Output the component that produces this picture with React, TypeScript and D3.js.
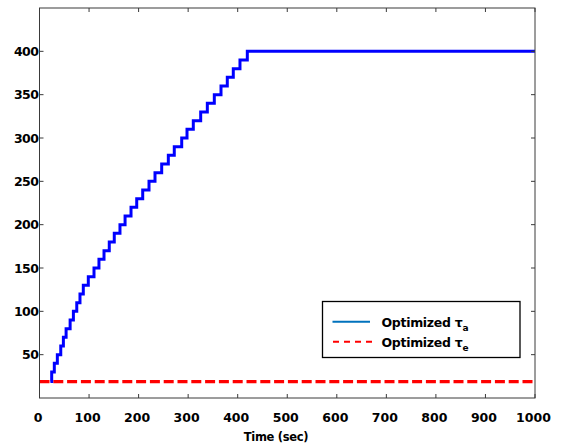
import React from "react";
import * as d3 from "d3";

// Optimized tau_a: step-change times (sec) and the value reached at each step
const stepTimes = [22, 24.6, 29.9, 36, 42.9, 48.2, 53.7, 61.8, 68.4, 75.2, 81.7, 88.4, 98.5, 110, 120, 130.2, 140.8, 150.9, 162.4, 172.7, 184.7, 196.2, 208.3, 221, 233.1, 246.6, 260, 272, 287, 297.7, 310.4, 325.3, 338.7, 352.8, 366.3, 379, 391.1, 404.6, 419.4, 1000];
const stepValues = [19, 30, 40, 50, 60, 70, 80, 90, 100, 110, 120, 130, 140, 150, 160, 170, 180, 190, 200, 210, 220, 230, 240, 250, 260, 270, 280, 290, 300, 310, 320, 330, 340, 350, 360, 370, 380, 390, 400, 400];

// Optimized tau_e: constant
const tauETimes = [0, 1000];
const tauEValues = [19, 19];

const xTicks = [0, 100, 200, 300, 400, 500, 600, 700, 800, 900, 1000];
const yTicks = [50, 100, 150, 200, 250, 300, 350, 400];

const W = 569;
const H = 444;
const L = 39.5;
const R = 535;
const T = 8;
const B = 398;

export default function App() {
  const x = d3.scaleLinear().domain([0, 1000]).range([L, R]);
  const y = d3.scaleLinear().domain([0, 450]).range([B, T]);

  const stepData = stepTimes.map((t, i) => [t, stepValues[i]] as [number, number]);
  const eData = tauETimes.map((t, i) => [t, tauEValues[i]] as [number, number]);

  const stepLine = d3
    .line<[number, number]>()
    .x((d) => x(d[0]))
    .y((d) => y(d[1]))
    .curve(d3.curveStepAfter);
  const plainLine = d3
    .line<[number, number]>()
    .x((d) => x(d[0]))
    .y((d) => y(d[1]));

  const font = "'DejaVu Sans', sans-serif";
  const axisColor = "#3a3a3a";
  const tickLen = 4;

  return (
    <svg
      width={W}
      height={H}
      style={{ position: "absolute", left: 0, top: 0, background: "#fff" }}
    >
      <rect x={0} y={0} width={W} height={H} fill="#fff" />
      <defs>
        <clipPath id="plotClip">
          <rect x={L} y={T} width={R - L} height={B - T} />
        </clipPath>
      </defs>

      {/* data */}
      <g clipPath="url(#plotClip)">
        <path
          d={plainLine(eData) || ""}
          fill="none"
          stroke="#ff0000"
          strokeWidth={3.2}
          strokeDasharray="10 3.8"
        />
        <path
          d={stepLine(stepData) || ""}
          fill="none"
          stroke="#0000ff"
          strokeWidth={3}
        />
      </g>

      {/* frame */}
      <rect
        x={L}
        y={T}
        width={R - L}
        height={B - T}
        fill="none"
        stroke={axisColor}
        strokeWidth={1}
      />

      {/* x ticks */}
      {xTicks.map((v) => (
        <g key={"x" + v}>
          <line x1={x(v)} x2={x(v)} y1={B} y2={B - tickLen} stroke={axisColor} />
          <line x1={x(v)} x2={x(v)} y1={T} y2={T + tickLen} stroke={axisColor} />
          <text
            x={x(v) - 1.5}
            y={421.5}
            textAnchor="middle"
            fontFamily={font}
            fontWeight="bold"
            fontSize={12.5}
            fill="#000"
          >
            {v}
          </text>
        </g>
      ))}

      {/* y ticks */}
      {yTicks.map((v) => (
        <g key={"y" + v}>
          <line x1={L} x2={L + tickLen} y1={y(v)} y2={y(v)} stroke={axisColor} />
          <line x1={R} x2={R - tickLen} y1={y(v)} y2={y(v)} stroke={axisColor} />
          <text
            x={L - 1}
            y={y(v)}
            dy="0.36em"
            textAnchor="end"
            fontFamily={font}
            fontWeight="bold"
            fontSize={12.5}
            letterSpacing={-0.5}
            fill="#000"
          >
            {v}
          </text>
        </g>
      ))}

      {/* x axis title */}
      <text
        x={276}
        y={441}
        textAnchor="middle"
        fontFamily={font}
        fontWeight="bold"
        fontSize={11.5}
        letterSpacing={-0.3}
        fill="#000"
      >
        Time (sec)
      </text>

      {/* legend */}
      <g>
        <rect
          x={322.5}
          y={301.5}
          width={197.5}
          height={56}
          fill="#fff"
          stroke="#000"
          strokeWidth={1.3}
        />
        <line x1={332.5} x2={370} y1={321.7} y2={321.7} stroke="#0072BD" strokeWidth={2} />
        <line
          x1={333}
          x2={372}
          y1={341.7}
          y2={341.7}
          stroke="#ff0000"
          strokeWidth={2}
          strokeDasharray="6 5"
        />
        <text x={381.5} y={327} fontFamily={font} fontWeight="bold" fontSize={12.5} letterSpacing={-0.3} fill="#000">
          Optimized τ
          <tspan fontSize={9} dy={4}>a</tspan>
        </text>
        <text x={381.5} y={347} fontFamily={font} fontWeight="bold" fontSize={12.5} letterSpacing={-0.3} fill="#000">
          Optimized τ
          <tspan fontSize={9} dy={4}>e</tspan>
        </text>
      </g>
    </svg>
  );
}
